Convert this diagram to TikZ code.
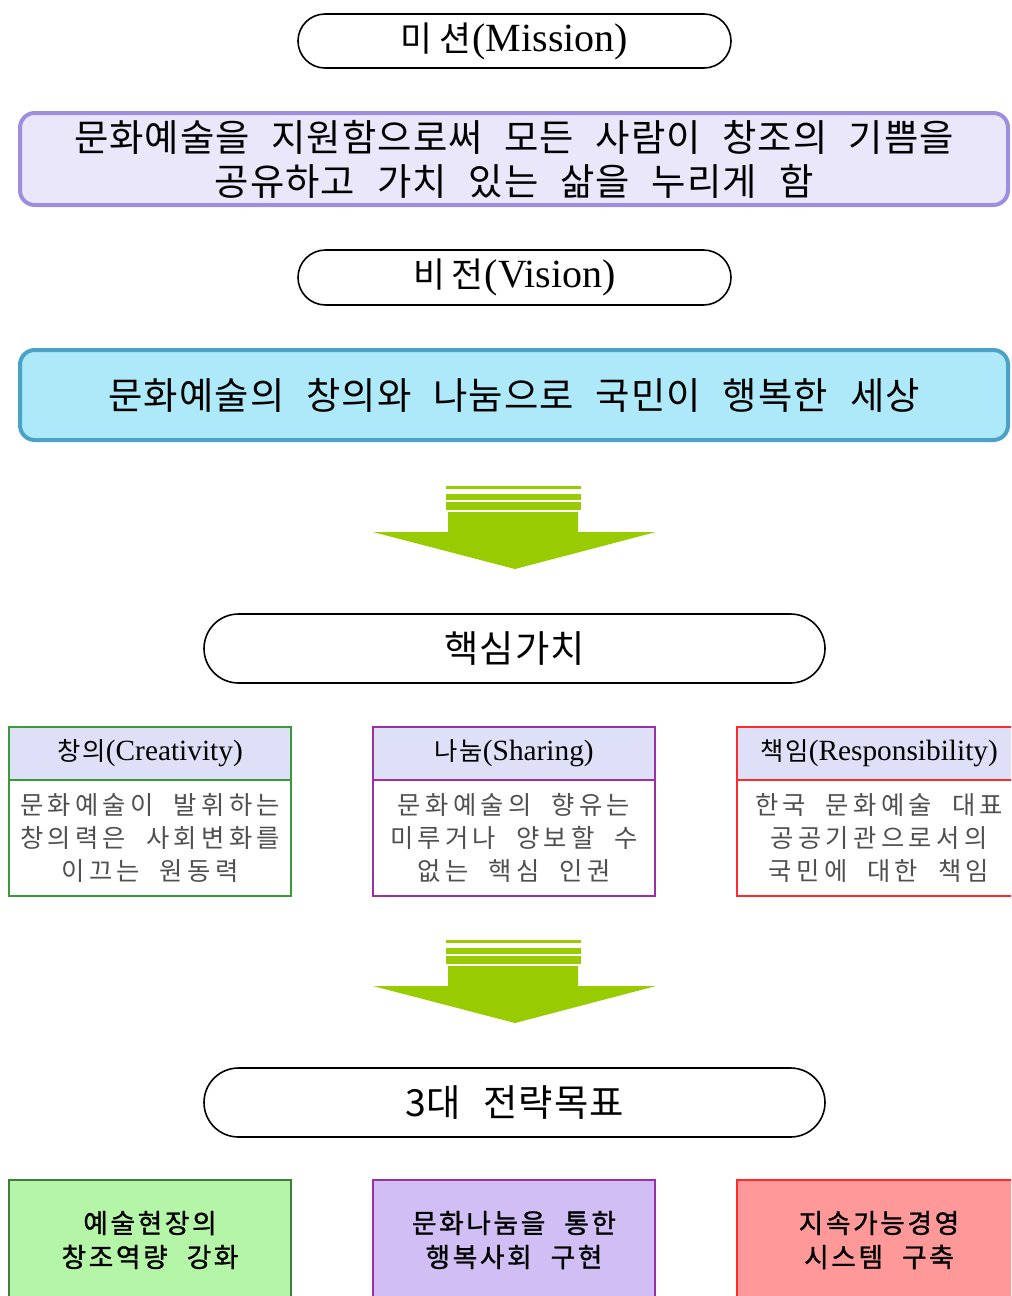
\documentclass[tikz,border=0pt]{standalone}
\usepackage{fontspec}
\usetikzlibrary{shapes.misc}
\setmainfont{Liberation Serif}
\newfontfamily\kr{Noto Sans CJK KR}
\newfontfamily\krwide{Noto Sans CJK KR}[LetterSpace=3,WordSpace=2.3]
\newfontfamily\krsmall{Noto Sans CJK KR}[LetterSpace=17,WordSpace=2.0]
\newfontfamily\krhead{Noto Sans CJK KR}[LetterSpace=8]
\newfontfamily\krgoal{Noto Sans CJK KR}[LetterSpace=10,WordSpace=2.2,FakeBold=1.2]
\definecolor{mfill}{HTML}{E9E7F9}
\definecolor{mborder}{HTML}{9E8EDD}
\definecolor{vfill}{HTML}{AEE9F9}
\definecolor{vborder}{HTML}{4AA3C6}
\definecolor{agreen}{HTML}{99CC00}
\definecolor{hdrfill}{HTML}{DDE0F6}
\definecolor{cgreen}{HTML}{3A9A3A}
\definecolor{cpurple}{HTML}{9B2FA5}
\definecolor{cred}{HTML}{FF2A2A}
\definecolor{bgreen}{HTML}{B5F5A8}
\definecolor{bgreenb}{HTML}{3E7D3E}
\definecolor{bpurple}{HTML}{D0BEF4}
\definecolor{bred}{HTML}{FF9999}
\definecolor{bodygray}{HTML}{505050}
\begin{document}
\begin{tikzpicture}[x=0.75pt,y=-0.75pt,
  pill/.style={rounded rectangle, draw=black, line width=1.2pt, fill=white, inner sep=0pt, outer sep=0pt},
  bigbox/.style={rectangle, rounded corners=11pt, line width=3pt, minimum width=741pt, inner sep=0pt, outer sep=0pt, align=center},
  hdr/.style={rectangle, fill=hdrfill, line width=1.5pt, minimum width=212pt, minimum height=39.75pt, inner sep=0pt, outer sep=0pt, font=\fontsize{22}{24}\selectfont},
  bodybox/.style={rectangle, fill=white, line width=1.5pt, minimum width=212pt, minimum height=87pt, inner sep=0pt, outer sep=0pt, align=center, text=bodygray, font=\krsmall\fontsize{19}{24.75}\selectfont},
  goalbox/.style={rectangle, line width=1.5pt, minimum width=212pt, minimum height=90pt, inner sep=0pt, outer sep=0pt, align=center, font=\krgoal\fontsize{20}{25.5}\selectfont}
]
\useasboundingbox (0,0) rectangle (1011,1296);
\clip (0,0) rectangle (1011,1296);

% Mission
\node[pill, minimum width=324.75pt, minimum height=40.5pt, font=\fontsize{30}{32}\selectfont] (mtitle) at (514.5,41)
  {{\kr\fontsize{26}{30}\selectfont 미\hspace{5pt}션}\hspace{1pt}(Mission)};
\node[bigbox, draw=mborder, fill=mfill, minimum height=69pt, font=\krwide\fontsize{28}{33}\selectfont] (mission) at (514,159)
  {\makebox[660pt][s]{문화예술을 지원함으로써 모든 사람이 창조의 기쁨을}\\공유하고 가치 있는 삶을 누리게 함};

% Vision
\node[pill, minimum width=324.75pt, minimum height=41.25pt, font=\fontsize{30}{32}\selectfont] (vtitle) at (514.5,277.5)
  {{\kr\fontsize{26}{30}\selectfont 비\hspace{5pt}전}\hspace{1pt}(Vision)};
\node[bigbox, draw=vborder, fill=vfill, minimum height=67.5pt, font=\krwide\fontsize{28}{33}\selectfont] (vision) at (514,395)
  {문화예술의 창의와 나눔으로 국민이 행복한 세상};

% Arrows
\foreach \dy/\nm in {0/a1, 454/a2} {
  \begin{scope}[shift={(0,\dy)}]
    \coordinate (\nm top) at (514,486);
    \fill[agreen] (446,486) rectangle (581,489);
    \fill[agreen] (446,494) rectangle (581,500);
    \fill[agreen] (446,502) rectangle (581,510);
    \fill[agreen] (448,512) -- (578,512) -- (578,532) -- (656,532) -- (515,569) -- (373,532) -- (448,532) -- cycle;
  \end{scope}
}

% Core values
\node[pill, minimum width=465.75pt, minimum height=51.75pt, font=\krwide\fontsize{28}{32}\selectfont] (core) at (514.5,648.5)
  {핵심가치};

\node[hdr, draw=cgreen] (h1) at (150,753.5) {{\krhead\fontsize{19}{24}\selectfont 창의}(Creativity)};
\node[bodybox, draw=cgreen, anchor=north] (b1) at (h1.south) {문화예술이 발휘하는\\창의력은 사회변화를\\이끄는 원동력};

\node[hdr, draw=cpurple] (h2) at (514,753.5) {{\krhead\fontsize{19}{24}\selectfont 나눔}(Sharing)};
\node[bodybox, draw=cpurple, anchor=north] (b2) at (h2.south) {문화예술의 향유는\\미루거나 양보할 수\\없는 핵심 인권};

\node[hdr, draw=cred, minimum width=213pt] (h3) at (879,753.5) {{\krhead\fontsize{19}{24}\selectfont 책임}(Responsibility)};
\node[bodybox, draw=cred, anchor=north, minimum width=213pt] (b3) at (h3.south) {한국 문화예술 대표\\공공기관으로서의\\국민에 대한 책임};

% Strategic goals
\node[pill, minimum width=465.75pt, minimum height=51.75pt, font=\krwide\fontsize{28}{32}\selectfont] (goals) at (514.5,1102.5)
  {3대 전략목표};

\node[goalbox, draw=bgreenb, fill=bgreen] (g1) at (150,1240) {예술현장의\\창조역량 강화};
\node[goalbox, draw=cpurple, fill=bpurple] (g2) at (514,1240) {문화나눔을 통한\\행복사회 구현};
\node[goalbox, draw=cred, fill=bred, minimum width=213pt] (g3) at (879,1240) {지속가능경영\\시스템 구축};
\end{tikzpicture}
\end{document}
